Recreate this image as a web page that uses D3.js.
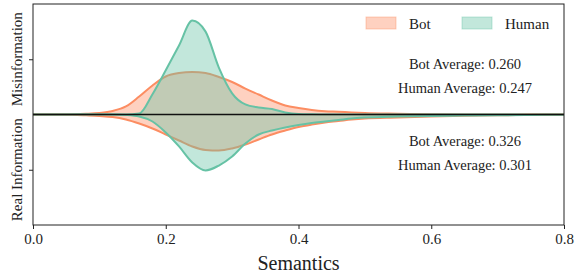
<!DOCTYPE html>
<html>
<head>
<meta charset="utf-8">
<script src="https://cdn.jsdelivr.net/npm/d3@7"></script>
<style>
  body { margin: 0; background: #fff; }
  text { font-family: "Liberation Serif", "DejaVu Serif", serif; fill: #222; }
</style>
</head>
<body>
<div id="chart"></div>
<script>
// KDE estimates (density, arbitrary units)
var semantics = [0, 0.02, 0.04, 0.06, 0.08, 0.10, 0.12, 0.14, 0.16, 0.18,
                 0.20, 0.22, 0.24, 0.26, 0.28, 0.30, 0.32, 0.34, 0.36, 0.38,
                 0.40, 0.42, 0.44, 0.46, 0.48, 0.50, 0.55, 0.60, 0.65, 0.70, 0.75, 0.80];

var botMis = [0, 0, 0, 0.02, 0.07, 0.16, 0.38, 0.87, 1.95, 3.15,
              4.13, 4.5, 4.61, 4.5, 4.07, 3.53, 2.82, 2.17, 1.52, 0.98,
              0.7, 0.49, 0.36, 0.3, 0.22, 0.16, 0.09, 0.03, 0.01, 0, 0, 0];
var humanMis = [0, 0, 0, 0, 0, 0, 0, 0, 0.1, 2.2,
                4.8, 7.5, 10.2, 9.0, 5.1, 2.3, 1.09, 0.76, 0.6, 0.22,
                0.05, 0.02, 0.01, 0, 0, 0, 0, 0, 0, 0, 0, 0];
var botReal = [0, 0, 0.01, 0.03, 0.09, 0.16, 0.27, 0.54, 0.98, 1.52,
               2.17, 2.82, 3.47, 3.85, 3.91, 3.69, 3.26, 2.71, 2.17, 1.74,
               1.36, 1.09, 0.87, 0.71, 0.54, 0.43, 0.33, 0.22, 0.14, 0.09, 0.04, 0.02];
var humanReal = [0, 0, 0, 0, 0, 0, 0, 0.05, 0.22, 0.76,
                 1.95, 3.47, 5.21, 6.08, 5.54, 4.56, 3.15, 2.17, 1.74, 1.41,
                 1.14, 0.92, 0.76, 0.6, 0.43, 0.33, 0.22, 0.16, 0.11, 0.08, 0.05, 0.03];

var xTicks = [0, 0.2, 0.4, 0.6, 0.8];
var groups = ["Bot", "Human"];
var misAverages = ["Bot Average: 0.260", "Human Average: 0.247"];
var realAverages = ["Bot Average: 0.326", "Human Average: 0.301"];

var colors = {Bot: "#fc8d62", Human: "#66c2a5"};

var width = 575, height = 276;
var plotLeft = 33, plotRight = 564, plotTop = 4, plotBottom = 225;

var svg = d3.select("#chart").append("svg")
  .attr("width", width)
  .attr("height", height);

var x = d3.scaleLinear().domain([0, 0.8]).range([plotLeft, plotRight]);
var y = d3.scaleLinear().domain([-12, 12]).range([plotBottom, plotTop]);

function drawDensity(values, sign, name) {
  var pts = semantics.map(function(s, i) { return [s, sign * values[i]]; });
  var area = d3.area()
    .x(function(d) { return x(d[0]); })
    .y0(y(0))
    .y1(function(d) { return y(d[1]); })
    .curve(d3.curveMonotoneX);
  var line = d3.line()
    .x(function(d) { return x(d[0]); })
    .y(function(d) { return y(d[1]); })
    .curve(d3.curveMonotoneX);
  svg.append("path")
    .datum(pts)
    .attr("d", area)
    .attr("fill", colors[name])
    .attr("fill-opacity", 0.4);
  svg.append("path")
    .datum(pts)
    .attr("d", line)
    .attr("fill", "none")
    .attr("stroke", colors[name])
    .attr("stroke-width", 2);
}

drawDensity(botMis, 1, "Bot");
drawDensity(humanMis, 1, "Human");
drawDensity(botReal, -1, "Bot");
drawDensity(humanReal, -1, "Human");

// middle divider
svg.append("line")
  .attr("x1", plotLeft).attr("x2", plotRight)
  .attr("y1", y(0)).attr("y2", y(0))
  .attr("stroke", "#111")
  .attr("stroke-width", 1.5);

// frame
svg.append("rect")
  .attr("x", plotLeft).attr("y", plotTop)
  .attr("width", plotRight - plotLeft).attr("height", plotBottom - plotTop)
  .attr("fill", "none")
  .attr("stroke", "#222")
  .attr("stroke-width", 1);

// x axis
var xAxis = svg.append("g")
  .attr("transform", "translate(0," + plotBottom + ")")
  .call(d3.axisBottom(x).tickValues(xTicks).tickFormat(d3.format(".1f")).tickSize(4).tickPadding(4));
xAxis.attr("font-family", null);
xAxis.select(".domain").remove();
xAxis.selectAll("text").style("font-size", "15px").attr("fill", "#222");
xAxis.selectAll("line").attr("stroke", "#222");

// y axis (ticks only)
var yAxis = svg.append("g")
  .attr("transform", "translate(" + plotLeft + ",0)")
  .call(d3.axisLeft(y).tickValues([-6, 6]).tickFormat("").tickSize(4));
yAxis.select(".domain").remove();
yAxis.selectAll("line").attr("stroke", "#222");

svg.append("text")
  .attr("x", (plotLeft + plotRight) / 2)
  .attr("y", 270)
  .attr("text-anchor", "middle")
  .style("font-size", "20px")
  .text("Semantics");

svg.append("text")
  .attr("transform", "translate(22," + y(6) + ") rotate(-90)")
  .attr("text-anchor", "middle")
  .style("font-size", "15px")
  .text("Misinformation");
svg.append("text")
  .attr("transform", "translate(22," + y(-6) + ") rotate(-90)")
  .attr("text-anchor", "middle")
  .style("font-size", "15px")
  .text("Real Information");

// legend
var legend = svg.append("g").attr("transform", "translate(366,17)");
groups.forEach(function(g, i) {
  var item = legend.append("g").attr("transform", "translate(" + (i * 96) + ",0)");
  item.append("rect")
    .attr("width", 30).attr("height", 12)
    .attr("fill", colors[g]).attr("fill-opacity", 0.4)
    .attr("stroke", colors[g]).attr("stroke-opacity", 0.4);
  item.append("text")
    .attr("x", 43).attr("y", 11.5)
    .style("font-size", "15px")
    .text(g);
});

// averages
misAverages.forEach(function(t, i) {
  svg.append("text")
    .attr("x", 465).attr("y", 69 + i * 23.5)
    .attr("text-anchor", "middle")
    .style("font-size", "14.5px")
    .text(t);
});
realAverages.forEach(function(t, i) {
  svg.append("text")
    .attr("x", 465).attr("y", 146 + i * 23.5)
    .attr("text-anchor", "middle")
    .style("font-size", "14.5px")
    .text(t);
});
</script>
</body>
</html>
